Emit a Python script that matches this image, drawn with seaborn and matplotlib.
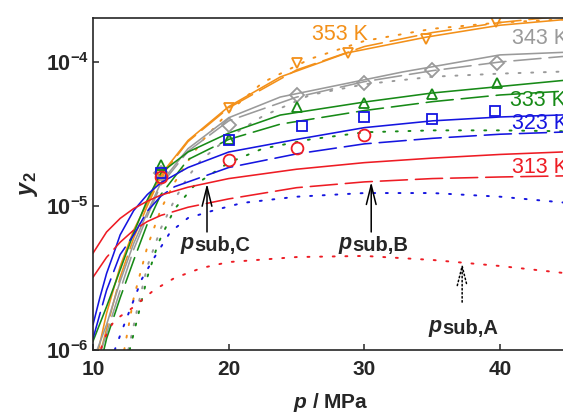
import numpy as np
import pandas as pd
import matplotlib
matplotlib.use("Agg")
import matplotlib.pyplot as plt
import seaborn as sns

# ---------------- data ----------------
T_labels = ["353 K", "343 K", "333 K", "323 K", "313 K"]
colors = ["#F39019", "#9A9A9A", "#178A17", "#1515E0", "#EE1C24"]
markers = ["v", "D", "^", "s", "o"]

# experimental points
x353 = [15, 20, 25, 28.8, 34.5, 39.7]
y353 = [1.64e-5, 4.8e-5, 9.8e-5, 1.155e-4, 1.44e-4, 1.9e-4]
x343 = [15, 20, 25, 30, 35, 39.8]
y343 = [1.7e-5, 3.65e-5, 5.9e-5, 7.15e-5, 8.8e-5, 9.85e-5]
x333 = [15, 20, 25, 30, 35, 39.8]
y333 = [1.93e-5, 2.92e-5, 4.87e-5, 5.19e-5, 6.0e-5, 7.15e-5]
x323 = [15, 20, 25.4, 30, 35, 39.6]
y323 = [1.7e-5, 2.87e-5, 3.6e-5, 4.15e-5, 4.02e-5, 4.57e-5]
x313 = [15, 20, 25, 30]
y313 = [1.6e-5, 2.09e-5, 2.53e-5, 3.11e-5]

# model curves: solid (C), dashed (B), dotted (A)
p_grid = [10, 11, 12, 13, 14, 15, 17, 20, 25, 30, 35, 40, 45]

orange_solid_x = [10.4, 11, 12, 13, 14, 15, 17, 20, 23.8, 28.7, 34.6, 40, 45]
orange_solid_y = [1e-6, 1.8e-6, 3.8e-6, 6.8e-6, 1.05e-5, 1.65e-5, 2.85e-5, 4.9e-5, 7.87e-5, 1.155e-4, 1.49e-4, 1.8e-4, 1.98e-4]
orange_dash_x = [10.6, 11, 12, 13, 14, 15, 17, 20, 25, 30, 35, 40, 45]
orange_dash_y = [1e-6, 1.4e-6, 3.2e-6, 6.0e-6, 1.0e-5, 1.6e-5, 2.8e-5, 4.8e-5, 8.8e-5, 1.28e-4, 1.6e-4, 1.88e-4, 2.1e-4]
orange_dot_x = [12.3, 13, 14, 15, 16, 17, 18, 20, 22.5, 26, 30, 35, 40, 45]
orange_dot_y = [1e-6, 2.3e-6, 5.2e-6, 9.5e-6, 1.45e-5, 2.05e-5, 2.8e-5, 4.5e-5, 7.2e-5, 1.05e-4, 1.4e-4, 1.7e-4, 1.88e-4, 1.98e-4]

gray_solid_x = [10.3, 11, 12, 13, 14, 15, 17, 20, 23.8, 32.8, 40, 45]
gray_solid_y = [1e-6, 1.5e-6, 3.0e-6, 5.5e-6, 9e-6, 1.45e-5, 2.5e-5, 4.1e-5, 5.71e-5, 8.52e-5, 1.12e-4, 1.17e-4]
gray_dash_x = [10.6, 11, 12, 13, 14, 15, 17, 20, 25, 30, 35, 40, 45]
gray_dash_y = [1e-6, 1.3e-6, 2.6e-6, 5e-6, 8.5e-6, 1.4e-5, 2.4e-5, 3.9e-5, 5.7e-5, 7.3e-5, 8.7e-5, 1.0e-4, 1.1e-4]
gray_dot_x = [12.6, 13.3, 14, 15, 16, 17, 18, 20, 22.5, 26, 30, 35, 40, 45]
gray_dot_y = [1e-6, 2e-6, 3.8e-6, 7e-6, 1.1e-5, 1.6e-5, 2.1e-5, 3.0e-5, 4.2e-5, 5.9e-5, 7.0e-5, 7.9e-5, 8.3e-5, 8.6e-5]

green_solid_x = [10, 11, 12, 13, 14, 15, 17, 20, 23.8, 30, 35, 45]
green_solid_y = [1.15e-6, 2.0e-6, 3.6e-6, 6.5e-6, 1.1e-5, 1.7e-5, 2.37e-5, 3.21e-5, 4.28e-5, 5.27e-5, 6.09e-5, 7.5e-5]
green_dash_x = [10.8, 11, 12, 13, 14, 15, 17, 20, 23.8, 30, 35, 40, 45]
green_dash_y = [1e-6, 1.2e-6, 2.3e-6, 4.2e-6, 7.5e-6, 1.2e-5, 2.1e-5, 2.9e-5, 3.7e-5, 4.6e-5, 5.3e-5, 5.9e-5, 6.3e-5]
green_dot_x = [12.7, 13.3, 14, 14.8, 16, 17.5, 20, 22.5, 26, 30, 35, 40, 45]
green_dot_y = [1e-6, 1.7e-6, 3.2e-6, 5.5e-6, 9.5e-6, 1.4e-5, 2.0e-5, 2.5e-5, 2.9e-5, 3.25e-5, 3.35e-5, 3.35e-5, 3.3e-5]

blue_solid_x = [10, 10.5, 11, 11.5, 12, 13, 14, 15, 17, 20, 25, 30, 35, 40, 45]
blue_solid_y = [1.5e-6, 2.3e-6, 3.4e-6, 4.6e-6, 6.3e-6, 9.3e-6, 1.2e-5, 1.45e-5, 1.85e-5, 2.37e-5, 2.9e-5, 3.5e-5, 3.9e-5, 4.15e-5, 4.3e-5]
blue_dash_x = [10, 11, 12, 13, 14, 15, 16, 20, 25, 30, 35, 40, 45]
blue_dash_y = [1.2e-6, 2.6e-6, 4.6e-6, 6.3e-6, 9.2e-6, 1.17e-5, 1.36e-5, 1.85e-5, 2.3e-5, 2.7e-5, 2.95e-5, 3.15e-5, 3.27e-5]
blue_dot_x = [11.6, 12.2, 13, 13.6, 14.5, 15.7, 17, 19, 21, 25, 30, 35, 40, 45]
blue_dot_y = [1e-6, 1.42e-6, 2.22e-6, 3.11e-6, 4.36e-6, 6.6e-6, 8.25e-6, 9.38e-6, 1.05e-5, 1.16e-5, 1.23e-5, 1.23e-5, 1.16e-5, 1.05e-5]

red_solid_x = p_grid
red_solid_y = [4.7e-6, 6.6e-6, 8.2e-6, 9.6e-6, 1.08e-5, 1.19e-5, 1.35e-5, 1.55e-5, 1.8e-5, 2.0e-5, 2.15e-5, 2.28e-5, 2.38e-5]
red_dash_x = p_grid
red_dash_y = [3.2e-6, 4.4e-6, 5.6e-6, 6.8e-6, 7.8e-6, 8.6e-6, 9.8e-6, 1.12e-5, 1.34e-5, 1.47e-5, 1.55e-5, 1.59e-5, 1.62e-5]
red_dot_x = [10.6, 11.1, 11.6, 12.9, 14.5, 16, 18, 20, 25, 30, 35, 40, 45]
red_dot_y = [1.03e-6, 1.36e-6, 1.61e-6, 1.96e-6, 2.61e-6, 3.16e-6, 3.71e-6, 4.08e-6, 4.42e-6, 4.5e-6, 4.22e-6, 3.83e-6, 3.4e-6]

x_ticks = [10, 20, 30, 40]
y_ticks = [1e-6, 1e-5, 1e-4]
y_tick_labels = [r"$\mathbf{10^{-6}}$", r"$\mathbf{10^{-5}}$", r"$\mathbf{10^{-4}}$"]
sub_labels = ["sub,C", "sub,B", "sub,A"]

# ---------------- style ----------------
sns.set_style("ticks")
plt.rcParams["font.family"] = ["Liberation Sans", "DejaVu Sans"]
plt.rcParams["mathtext.fontset"] = "custom"
plt.rcParams["mathtext.rm"] = "Liberation Sans"
plt.rcParams["mathtext.it"] = "Liberation Sans:italic"
plt.rcParams["mathtext.bf"] = "Liberation Sans:bold"
plt.rcParams["mathtext.bfit"] = "Liberation Sans:italic:bold"

fig = plt.figure(figsize=(5.63, 4.19), dpi=100)
ax = fig.add_axes([93 / 563, 69 / 419, 475 / 563, 332 / 419])

lw = 1.15
dash = (0, (17, 5))
dot = (0, (1, 5.5))

curves = [
    (orange_solid_x, orange_solid_y, colors[0], "-"),
    (orange_dash_x, orange_dash_y, colors[0], dash),
    (orange_dot_x, orange_dot_y, colors[0], dot),
    (gray_solid_x, gray_solid_y, colors[1], "-"),
    (gray_dash_x, gray_dash_y, colors[1], dash),
    (gray_dot_x, gray_dot_y, colors[1], dot),
    (green_solid_x, green_solid_y, colors[2], "-"),
    (green_dash_x, green_dash_y, colors[2], dash),
    (green_dot_x, green_dot_y, colors[2], dot),
    (blue_solid_x, blue_solid_y, colors[3], "-"),
    (blue_dash_x, blue_dash_y, colors[3], dash),
    (blue_dot_x, blue_dot_y, colors[3], dot),
    (red_solid_x, red_solid_y, colors[4], "-"),
    (red_dash_x, red_dash_y, colors[4], dash),
    (red_dot_x, red_dot_y, colors[4], dot),
]
for xs, ys, c, ls in curves:
    d = pd.DataFrame({"p": xs, "y": ys})
    sns.lineplot(data=d, x="p", y="y", ax=ax, color=c, linestyle=ls,
                 lw=(1.4 if ls is dot else lw), estimator=None, sort=False,
                 errorbar=None, dash_capstyle="round")

points = [(x353, y353), (x343, y343), (x333, y333), (x323, y323), (x313, y313)]
for (xs, ys), c, m in zip(points, colors, markers):
    d = pd.DataFrame({"p": xs, "y": ys})
    ms = 7.5 if m in ("v", "^") else (7 if m == "D" else 8.5 if m == "o" else 7.5)
    sns.lineplot(data=d, x="p", y="y", ax=ax, color=c, linestyle="none",
                 marker=m, markersize=ms, markerfacecolor="none",
                 markeredgecolor=c, markeredgewidth=1.3, estimator=None,
                 errorbar=None)

ax.set_yscale("log")
ax.set_xlim(10, 45)
ax.set_ylim(1e-6, 2.02e-4)
ax.set_xticks(x_ticks)
ax.set_xticklabels([str(t) for t in x_ticks], fontweight="bold", fontsize=15)
ax.set_yticks(y_ticks)
ax.set_yticklabels(y_tick_labels, fontsize=15.5)
ax.yaxis.set_minor_locator(matplotlib.ticker.NullLocator())
ax.tick_params(axis="both", which="major", direction="in", length=4, width=1.1,
               top=False, right=False)
ax.tick_params(axis="x", pad=7)
ax.tick_params(axis="y", pad=3)
for s in ax.spines.values():
    s.set_linewidth(1.2)

ax.set_xlabel(r"$\mathbfit{p}$ / MPa", fontsize=15, fontweight="bold", labelpad=9)
ax.set_ylabel(r"$\mathbfit{y}_{\mathbf{2}}$", fontsize=17, labelpad=4)

# temperature labels
tk = dict(fontsize=15.5, va="center", ha="left")
ax.text(26.1, 1.54e-4, T_labels[0], color=colors[0], **tk)
ax.text(40.85, 1.445e-4, T_labels[1], color=colors[1], **tk)
ax.text(40.7, 5.36e-5, T_labels[2], color=colors[2], **tk)
ax.text(40.85, 3.71e-5, T_labels[3], color=colors[3], **tk)
ax.text(40.85, 1.84e-5, T_labels[4], color=colors[4], **tk)

# p_sub annotations
arrow = dict(arrowstyle="->,head_length=1.4,head_width=0.35", mutation_scale=10,
             lw=1.1, color="black", shrinkA=0, shrinkB=0)
ax.annotate("", xy=(18.4, 1.43e-5), xytext=(18.4, 6.6e-6), arrowprops=arrow)
ax.annotate("", xy=(30.5, 1.47e-5), xytext=(30.5, 6.6e-6), arrowprops=arrow)
arrow_dot = dict(arrow, linestyle=":")
ax.annotate("", xy=(37.2, 4.02e-6), xytext=(37.2, 2.15e-6), arrowprops=arrow_dot)

anchors = [(17.44, 5.03e-6), (29.07, 5.03e-6), (35.7, 1.33e-6)]
for (xa, ya), sub in zip(anchors, sub_labels):
    ax.text(xa, ya, "p", fontsize=15.5, style="italic", fontweight="bold",
            ha="right", va="baseline")
    ax.annotate(sub, xy=(xa, ya), xytext=(0.5, -1.5), textcoords="offset points",
                fontsize=14.5, fontweight="bold", ha="left", va="baseline")

fig.savefig("out.png", dpi=100)
